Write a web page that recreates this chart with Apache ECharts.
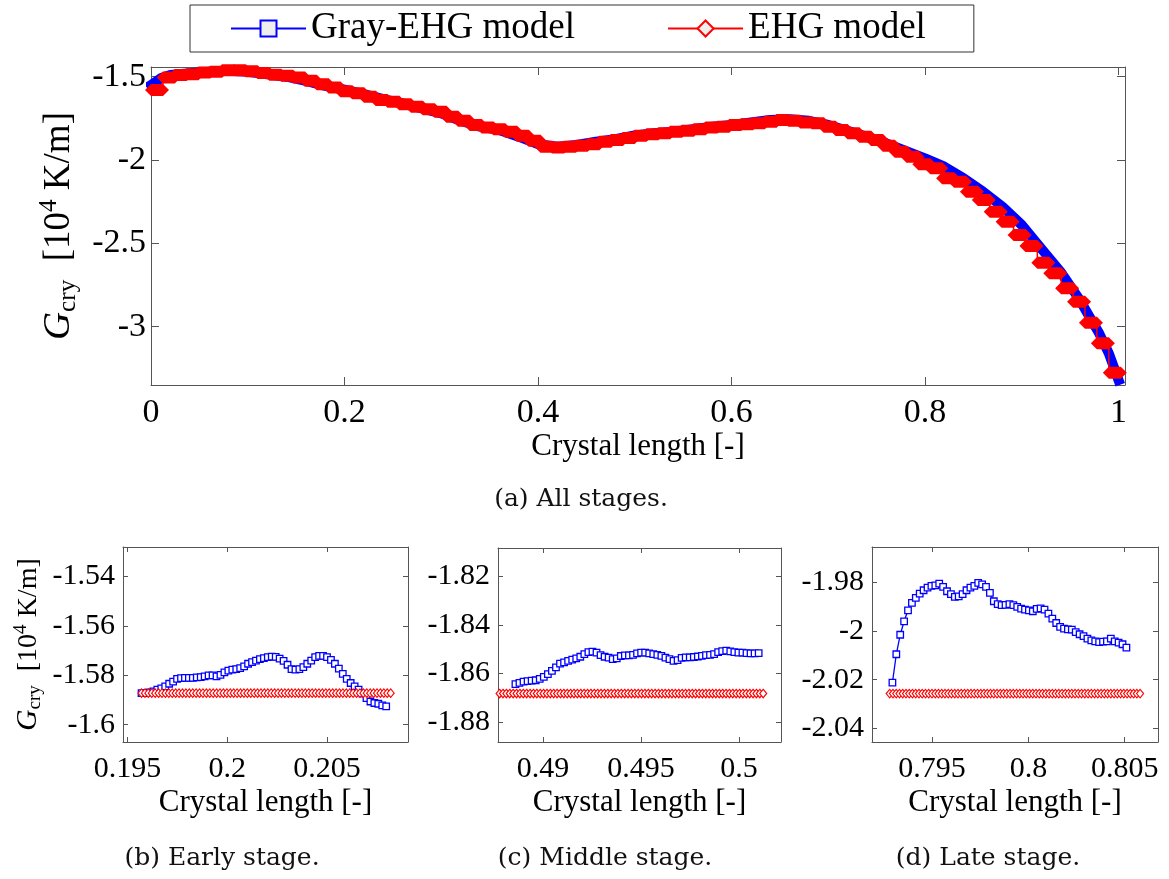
<!DOCTYPE html>
<html>
<head>
<meta charset="utf-8">
<script src="https://cdn.jsdelivr.net/npm/echarts@6/dist/echarts.min.js"></script>
<style>
  html, body { margin: 0; padding: 0; background: #fff; }
  #chart { width: 1169px; height: 879px; }
</style>
</head>
<body>
<div id="chart"></div>
<script>
// ---- data ----

// (a) all stages: Gray-EHG model, G_cry [10^4 K/m] vs crystal length
const mainX = [0, 0.01, 0.02, 0.04, 0.06, 0.08, 0.10, 0.12, 0.14, 0.16, 0.18, 0.20, 0.22, 0.24, 0.26, 0.28,
  0.30, 0.32, 0.34, 0.36, 0.38, 0.40, 0.42, 0.44, 0.46, 0.48, 0.50, 0.52, 0.54, 0.56, 0.58, 0.60,
  0.62, 0.64, 0.66, 0.68, 0.70, 0.72, 0.74, 0.76, 0.78, 0.80, 0.82, 0.84, 0.86, 0.88, 0.90, 0.92,
  0.94, 0.96, 0.97, 0.98, 0.99, 1.0]
const mainGray = [-1.55, -1.51, -1.49, -1.48, -1.47, -1.465, -1.47, -1.485, -1.50, -1.525, -1.555, -1.578,
  -1.605, -1.635, -1.66, -1.69, -1.72, -1.765, -1.80, -1.82, -1.86, -1.905, -1.92, -1.91, -1.89,
  -1.875, -1.853, -1.84, -1.83, -1.815, -1.80, -1.79, -1.775, -1.76, -1.755, -1.765, -1.79, -1.825,
  -1.86, -1.90, -1.945, -1.99, -2.04, -2.11, -2.19, -2.28, -2.39, -2.53, -2.67, -2.84, -2.94, -3.04,
  -3.16, -3.32]

// EHG model is piecewise constant: start of each step and its level
const ehgEdges = [0, 0.0122, 0.0245, 0.0367, 0.0489, 0.0612, 0.0734, 0.0856, 0.0979, 0.1101, 0.1223,
  0.1346, 0.1468, 0.159, 0.1713, 0.1835, 0.1957, 0.2079, 0.2201, 0.2322, 0.2444, 0.2565, 0.2687,
  0.2809, 0.293, 0.3052, 0.3173, 0.3295, 0.3417, 0.3538, 0.366, 0.3781, 0.3903, 0.4025, 0.4146,
  0.4268, 0.4389, 0.4511, 0.4633, 0.4754, 0.4876, 0.4998, 0.512, 0.5243, 0.5365, 0.5487, 0.5609,
  0.5731, 0.5854, 0.5976, 0.6098, 0.622, 0.6342, 0.6465, 0.6587, 0.6709, 0.6831, 0.6953, 0.7076,
  0.7198, 0.732, 0.7442, 0.7564, 0.7687, 0.7809, 0.7931, 0.8054, 0.8177, 0.83, 0.8423, 0.8546,
  0.8669, 0.8792, 0.8915, 0.9038, 0.9161, 0.9284, 0.9407, 0.953, 0.9653, 0.9776, 0.99]
const ehgLevels = [-1.58, -1.505, -1.49, -1.485, -1.475, -1.47, -1.462, -1.462, -1.468, -1.478, -1.488,
  -1.495, -1.505, -1.525, -1.545, -1.565, -1.587, -1.60, -1.62, -1.64, -1.65, -1.665, -1.68,
  -1.695, -1.71, -1.74, -1.765, -1.79, -1.805, -1.815, -1.83, -1.855, -1.885, -1.92, -1.925,
  -1.92, -1.915, -1.905, -1.89, -1.88, -1.868, -1.855, -1.845, -1.84, -1.83, -1.825, -1.815,
  -1.805, -1.80, -1.79, -1.785, -1.78, -1.77, -1.76, -1.765, -1.775, -1.78, -1.80, -1.82,
  -1.84, -1.86, -1.88, -1.915, -1.95, -1.98, -2.026, -2.05, -2.11, -2.13, -2.19, -2.24,
  -2.31, -2.37, -2.45, -2.516, -2.616, -2.68, -2.77, -2.85, -2.976, -3.10, -3.276]
const ehgEnd = 1.0

// (b) early stage
const earlyStart = 0.1957, earlyStep = 0.000198
const earlyGray = [-1.5872, -1.5872, -1.5869, -1.5865, -1.5858, -1.5853, -1.5845, -1.5834, -1.5825,
  -1.5814, -1.5811, -1.5810, -1.5810, -1.5810, -1.5808, -1.5807, -1.5804, -1.5800, -1.5800, -1.5804,
  -1.5798, -1.5788, -1.5781, -1.5777, -1.5775, -1.5771, -1.5764, -1.5753, -1.5746, -1.5740, -1.5734,
  -1.5730, -1.5726, -1.5724, -1.5725, -1.5732, -1.5741, -1.5757, -1.5775, -1.5777, -1.5775, -1.5767,
  -1.5753, -1.5740, -1.5726, -1.5721, -1.5721, -1.5726, -1.5737, -1.5753, -1.5773, -1.5794, -1.5814,
  -1.5831, -1.5845, -1.5858, -1.5874, -1.5892, -1.5906, -1.5912, -1.5915, -1.5922, -1.5926]
const earlyEhg = { from: 0.1957, to: 0.2082, count: 74, level: -1.5872 }

// (c) middle stage
const middleStart = 0.48859, middleStep = 0.000207
const middleGray = [-1.8644, -1.8639, -1.8634, -1.8632, -1.8630, -1.8628, -1.8622, -1.8614, -1.8603,
  -1.8589, -1.8575, -1.8559, -1.8554, -1.8548, -1.8543, -1.8538, -1.8531, -1.8520, -1.8512, -1.8510,
  -1.8514, -1.8524, -1.8531, -1.8535, -1.8541, -1.8538, -1.8528, -1.8525, -1.8525, -1.8523, -1.8517,
  -1.8514, -1.8514, -1.8517, -1.8520, -1.8523, -1.8527, -1.8535, -1.8541, -1.8548, -1.8545, -1.8536,
  -1.8534, -1.8534, -1.8532, -1.8530, -1.8527, -1.8524, -1.8523, -1.8520, -1.8512, -1.8508, -1.8506,
  -1.8509, -1.8512, -1.8514, -1.8514, -1.8516, -1.8517, -1.8517, -1.8516]
const middleEhg = { from: 0.48761, to: 0.50124, count: 80, level: -1.8683 }

// (d) late stage
const lateStart = 0.79294, lateStep = 0.0002025
const lateGray = [-2.0212, -2.0096, -2.0016, -1.9961, -1.9916, -1.9886, -1.9865, -1.9848, -1.9834,
  -1.9823, -1.9816, -1.9814, -1.9807, -1.9820, -1.9838, -1.9850, -1.9861, -1.9859, -1.9850, -1.9834,
  -1.9823, -1.9816, -1.9804, -1.9810, -1.9820, -1.9845, -1.9879, -1.9891, -1.9895, -1.9894, -1.9891,
  -1.9895, -1.9902, -1.9909, -1.9913, -1.9916, -1.9920, -1.9910, -1.9908, -1.9913, -1.9930, -1.9950,
  -1.9968, -1.9984, -1.9991, -1.9994, -1.9995, -2.0005, -2.0014, -2.0022, -2.0032, -2.0039, -2.0043,
  -2.0046, -2.0044, -2.0043, -2.0032, -2.0043, -2.0048, -2.0055, -2.0069]
const lateEhg = { from: 0.7928, to: 0.8058, count: 78, level: -2.0257 }

// tick values
const mainXTicks = [0, 0.2, 0.4, 0.6, 0.8, 1]
const mainYTicks = [-3, -2.5, -2, -1.5]
const earlyXTicks = [0.195, 0.2, 0.205]
const earlyYTicks = [-1.6, -1.58, -1.56, -1.54]
const middleXTicks = [0.49, 0.495, 0.5]
const middleYTicks = [-1.88, -1.86, -1.84, -1.82]
const lateXTicks = [0.795, 0.8, 0.805]
const lateYTicks = [-2.04, -2.02, -2, -1.98]

const GRAY_NAME = 'Gray-EHG model'
const EHG_NAME = 'EHG model'

// ---- helpers ----
const FONT = 'Liberation Serif'
const AXIS_COLOR = '#555'
const BLUE = '#0000ff'
const RED = '#ff0000'

function sampled(x0, dx, values) {
  return values.map((v, i) => [x0 + i * dx, v])
}
function flatRun(run) {
  const out = []
  const dx = (run.to - run.from) / (run.count - 1)
  for (let i = 0; i < run.count; i++) out.push([run.from + i * dx, run.level])
  return out
}

const xAxes = []
const yAxes = []

function addAxes(g, xr, yr, xTicks, yTicks, o) {
  const line = { show: true, onZero: false, lineStyle: { color: AXIS_COLOR, width: 1 } }
  const tick = (vals) => ({ show: true, inside: true, length: o.tickLen, customValues: vals, lineStyle: { color: AXIS_COLOR } })
  xAxes.push({
    type: 'value', gridIndex: g, position: 'bottom', min: xr[0], max: xr[1],
    axisLine: line, axisTick: tick(xTicks), splitLine: { show: false },
    axisLabel: { customValues: xTicks, fontFamily: FONT, fontSize: o.xFont, color: '#000', margin: o.xMargin },
    name: 'Crystal length [-]', nameLocation: 'middle', nameGap: o.xNameGap,
    nameTextStyle: { fontFamily: FONT, fontSize: o.xNameFont, color: '#000' }
  })
  xAxes.push({
    type: 'value', gridIndex: g, position: 'top', min: xr[0], max: xr[1],
    axisLine: line, axisTick: tick(xTicks), axisLabel: { show: false }, splitLine: { show: false }
  })
  const yName = o.yName ? {
    name: '{g|G}{sub|cry}  [10{sup|4} K/m]', nameLocation: 'middle', nameGap: o.yNameGap,
    nameTextStyle: {
      fontFamily: FONT, fontSize: o.yNameFont, color: '#000', lineHeight: o.yNameFont * 1.2,
      rich: {
        g: { fontFamily: FONT, fontStyle: 'italic', fontSize: o.yNameFont * 1.05, lineHeight: o.yNameFont * 1.2 },
        sub: { fontFamily: FONT, fontSize: o.yNameFont * 0.68, lineHeight: o.yNameFont * 0.68, verticalAlign: 'bottom' },
        sup: { fontFamily: FONT, fontSize: o.yNameFont * 0.68, lineHeight: o.yNameFont * 0.68, verticalAlign: 'top' }
      }
    }
  } : {}
  yAxes.push(Object.assign({
    type: 'value', gridIndex: g, position: 'left', min: yr[0], max: yr[1],
    axisLine: line, axisTick: tick(yTicks), splitLine: { show: false },
    axisLabel: { customValues: yTicks, fontFamily: FONT, fontSize: o.yFont, color: '#000', margin: o.yMargin }
  }, yName))
  yAxes.push({
    type: 'value', gridIndex: g, position: 'right', min: yr[0], max: yr[1],
    axisLine: line, axisTick: tick(yTicks), axisLabel: { show: false }, splitLine: { show: false }
  })
}

const mainOpts = { tickLen: 8, xFont: 34, yFont: 34, xMargin: 11, yMargin: 5, xNameGap: 46, xNameFont: 31, yName: true, yNameGap: 60, yNameFont: 37 }
const subOpts = { tickLen: 5, xFont: 30, yFont: 30, xMargin: 12, yMargin: 8, xNameGap: 45, xNameFont: 31 }

addAxes(0, [0, 1.0067], [-3.35, -1.442], mainXTicks, mainYTicks, mainOpts)
addAxes(1, [0.19477, 0.20907], [-1.607, -1.528], earlyXTicks, earlyYTicks, Object.assign({}, subOpts, { yName: true, yNameGap: 78, yNameFont: 28 }))
addAxes(2, [0.4877, 0.50215], [-1.8883, -1.8082], middleXTicks, middleYTicks, subOpts)
addAxes(3, [0.79188, 0.80673], [-2.0455, -1.9657], lateXTicks, lateYTicks, subOpts)

function grayZoom(g, data) {
  return {
    name: GRAY_NAME, type: 'line', xAxisIndex: 2 * g, yAxisIndex: 2 * g, data,
    symbol: 'rect', symbolSize: 6.5, showSymbol: true,
    itemStyle: { color: '#fff', borderColor: BLUE, borderWidth: 1.3 },
    lineStyle: { color: BLUE, width: 1.3 }, z: 3
  }
}
function ehgZoom(g, data) {
  return {
    name: EHG_NAME, type: 'line', xAxisIndex: 2 * g, yAxisIndex: 2 * g, data,
    symbol: 'diamond', symbolSize: [7, 8.5], showSymbol: true,
    itemStyle: { color: '#fff', borderColor: RED, borderWidth: 1.2 },
    lineStyle: { color: RED, width: 1 }, z: 4
  }
}

const ehgMainData = ehgEdges.map((x, i) => [x, ehgLevels[i]])
ehgMainData.push({ value: [ehgEnd, ehgLevels[ehgLevels.length - 1]], symbol: 'none' })

const series = [
  grayZoom(1, sampled(earlyStart, earlyStep, earlyGray)),
  ehgZoom(1, flatRun(earlyEhg)),
  grayZoom(2, sampled(middleStart, middleStep, middleGray)),
  ehgZoom(2, flatRun(middleEhg)),
  grayZoom(3, sampled(lateStart, lateStep, lateGray)),
  ehgZoom(3, flatRun(lateEhg)),
  {
    name: GRAY_NAME, type: 'line', xAxisIndex: 0, yAxisIndex: 0,
    data: mainX.map((x, i) => [x, mainGray[i]]),
    symbol: 'none', lineStyle: { color: BLUE, width: 10, join: 'round', cap: 'square' }, z: 3
  },
  {
    name: EHG_NAME, type: 'line', xAxisIndex: 0, yAxisIndex: 0, step: 'end',
    data: ehgMainData, clip: false,
    symbol: 'path://M0,6L6,0L18,0L24,6L18,12L6,12Z', symbolSize: [24, 12], symbolOffset: [6, 0],
    showSymbol: true, itemStyle: { color: RED, borderColor: RED, borderWidth: 0 },
    lineStyle: { color: RED, width: 1.5 }, z: 4
  }
]

const chart = echarts.init(document.getElementById('chart'), null, { renderer: 'canvas' })
chart.setOption({
  animation: false,
  backgroundColor: '#fff',
  grid: [
    { left: 151, top: 67, width: 974, height: 318 },
    { left: 123, top: 547, width: 285, height: 195 },
    { left: 498, top: 548, width: 283, height: 194 },
    { left: 872, top: 547, width: 286, height: 195 }
  ],
  xAxis: xAxes,
  yAxis: yAxes,
  legend: {
    left: 190, top: 5,
    data: [
      { name: GRAY_NAME, itemStyle: { color: '#eeeeee' } },
      { name: EHG_NAME, itemStyle: { color: '#eeeeee' } }
    ],
    itemWidth: 75, itemHeight: 20, itemGap: 92,
    lineStyle: { width: 2 },
    borderColor: '#333', borderWidth: 1, padding: [5, 48, 5, 40],
    textStyle: { fontFamily: FONT, fontSize: 37, color: '#000' },
    selectedMode: false
  },
  graphic: [
    { type: 'text', x: 581, y: 499, style: { text: '(a) All stages.', fontFamily: 'DejaVu Serif', fontSize: 25, fill: '#111', align: 'center', verticalAlign: 'middle' } },
    { type: 'text', x: 222, y: 858, style: { text: '(b) Early stage.', fontFamily: 'DejaVu Serif', fontSize: 25, fill: '#111', align: 'center', verticalAlign: 'middle' } },
    { type: 'text', x: 605, y: 858, style: { text: '(c) Middle stage.', fontFamily: 'DejaVu Serif', fontSize: 25, fill: '#111', align: 'center', verticalAlign: 'middle' } },
    { type: 'text', x: 988, y: 858, style: { text: '(d) Late stage.', fontFamily: 'DejaVu Serif', fontSize: 25, fill: '#111', align: 'center', verticalAlign: 'middle' } }
  ],
  series
})
</script>
</body>
</html>
